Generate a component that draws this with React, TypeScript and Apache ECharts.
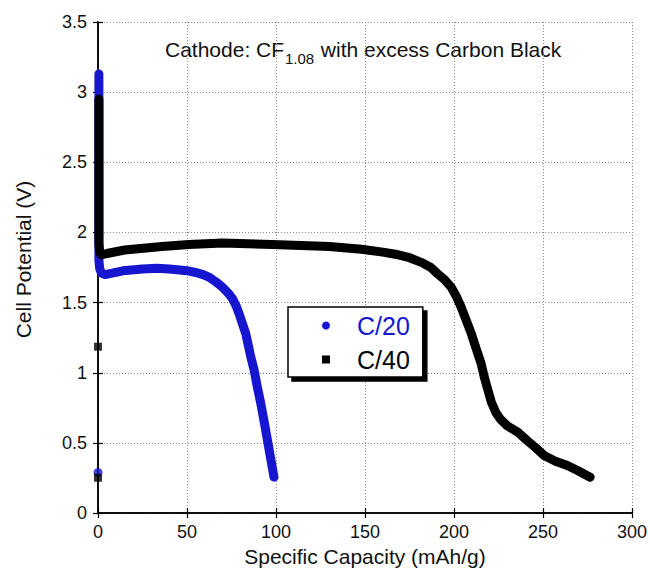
import React, { useEffect, useRef } from "react";
import * as echarts from "echarts";

const c20X = [0.5, 0.5, 0.5, 1, 2, 4, 8, 14, 25, 33, 40, 46, 51, 55, 59, 62.6, 66, 70, 73, 75.6, 77.5, 79.3, 81, 83, 85.8, 87.7, 89.5, 91.4, 93.3, 95.1, 97, 98.9];
const c20Y = [3.13, 2.5, 1.8, 1.74, 1.71, 1.7, 1.71, 1.727, 1.74, 1.745, 1.74, 1.733, 1.725, 1.715, 1.7, 1.68, 1.65, 1.609, 1.57, 1.527, 1.48, 1.42, 1.355, 1.28, 1.115, 1.02, 0.9, 0.785, 0.655, 0.527, 0.39, 0.256];
const c40X = [0.5, 0.5, 0.5, 1, 2, 5, 15, 36, 51, 70, 98, 130, 148, 160, 167, 175, 182, 187, 191, 195, 198.5, 201.5, 204, 207, 209.7, 212.5, 215.2, 217, 219, 221, 223.6, 226, 230, 236, 241.3, 246, 250.6, 257, 263.7, 270, 276.5];
const c40Y = [2.95, 2.5, 1.92, 1.86, 1.84, 1.85, 1.875, 1.9, 1.915, 1.925, 1.915, 1.9, 1.88, 1.86, 1.845, 1.82, 1.785, 1.75, 1.703, 1.66, 1.609, 1.54, 1.468, 1.37, 1.28, 1.17, 1.068, 0.97, 0.88, 0.79, 0.715, 0.67, 0.621, 0.575, 0.515, 0.465, 0.41, 0.37, 0.339, 0.3, 0.256];
const c20OutX = [0];
const c20OutY = [0.29];
const c40OutX = [0, 0];
const c40OutY = [1.186, 0.252];

const seriesNames = ["C/20", "C/40"];
const titleMain = "Cathode: CF";
const titleSub = "1.08";
const titleRest = " with excess Carbon Black";
const xName = "Specific Capacity (mAh/g)";
const yName = "Cell Potential (V)";

const BLUE = "#1616d0";
const FONT = "Liberation Sans, Arial, Helvetica, sans-serif";

const zip = (xs: number[], ys: number[]) => xs.map((x, i) => [x, ys[i]]);

export default function App() {
  const ref = useRef<HTMLDivElement>(null);
  useEffect(() => {
    if (!ref.current) return;
    const chart = echarts.init(ref.current, null, { renderer: "svg" });
    const axisCommon = {
      type: "value" as const,
      axisLine: { show: true, lineStyle: { color: "#000", width: 1.5 } },
      axisTick: { show: true, inside: true, length: 5, lineStyle: { color: "#000", width: 1.2 } },
    };
    chart.setOption({
      animation: false,
      backgroundColor: "#fff",
      textStyle: { fontFamily: FONT },
      grid: { left: 98, right: 15, top: 22, bottom: 54, containLabel: false },
      xAxis: [
        {
          ...axisCommon,
          position: "bottom",
          min: 0,
          max: 300,
          interval: 50,
          name: xName,
          nameLocation: "middle",
          nameGap: 26,
          nameTextStyle: { fontSize: 21, color: "#111", fontFamily: FONT },
          axisLabel: { fontSize: 18, color: "#111", margin: 10, fontFamily: FONT },
          splitLine: { show: true, lineStyle: { type: [1, 2], color: "#888", width: 1 } },
        },
        {
          ...axisCommon,
          position: "top",
          min: 0,
          max: 300,
          interval: 50,
          axisLabel: { show: false },
          splitLine: { show: false },
        },
      ],
      yAxis: [
        {
          ...axisCommon,
          position: "left",
          min: 0,
          max: 3.5,
          interval: 0.5,
          name: yName,
          nameLocation: "middle",
          nameGap: 64,
          nameTextStyle: { fontSize: 21, color: "#111", fontFamily: FONT, padding: [0, 0, 0, 16] },
          axisLabel: { fontSize: 18, color: "#111", margin: 11, fontFamily: FONT },
          splitLine: { show: true, lineStyle: { type: [1, 2], color: "#888", width: 1 } },
        },
        {
          ...axisCommon,
          position: "right",
          min: 0,
          max: 3.5,
          interval: 0.5,
          axisLabel: { show: false },
          splitLine: { show: false },
        },
      ],
      legend: {
        orient: "vertical",
        left: 288,
        top: 307,
        padding: [6, 13, 5, 34],
        itemGap: 9,
        itemWidth: 8,
        itemHeight: 8,
        backgroundColor: "#fff",
        borderColor: "#000",
        borderWidth: 1.5,
        borderRadius: 0,
        shadowColor: "#000",
        shadowBlur: 0,
        shadowOffsetX: 4,
        shadowOffsetY: 4,
        textStyle: { fontSize: 25, fontFamily: FONT, padding: [0, 0, 0, 22] },
        data: [
          { name: seriesNames[0], icon: "circle", textStyle: { color: BLUE } },
          { name: seriesNames[1], icon: "rect", textStyle: { color: "#000" } },
        ],
      },
      graphic: [
        { type: "text", left: 165, top: 39, style: { text: titleMain, fontSize: 21, fill: "#111", fontFamily: FONT } },
        { type: "text", left: 285, top: 51, style: { text: titleSub, fontSize: 15, fill: "#111", fontFamily: FONT } },
        { type: "text", left: 315, top: 39, style: { text: titleRest, fontSize: 21, fill: "#111", fontFamily: FONT } },
      ],
      series: [
        {
          name: seriesNames[0],
          type: "line",
          data: zip(c20X, c20Y),
          symbol: "none",
          color: BLUE,
          lineStyle: { color: BLUE, width: 9, cap: "round", join: "round" },
        },
        {
          name: seriesNames[0],
          type: "scatter",
          data: zip(c20OutX, c20OutY),
          symbol: "circle",
          symbolSize: 9,
          itemStyle: { color: BLUE },
        },
        {
          name: seriesNames[1],
          type: "line",
          data: zip(c40X, c40Y),
          symbol: "none",
          color: "#000",
          lineStyle: { color: "#000", width: 9, cap: "round", join: "round" },
        },
        {
          name: seriesNames[1],
          type: "scatter",
          data: zip(c40OutX, c40OutY),
          symbol: "rect",
          symbolSize: 8,
          itemStyle: { color: "#000" },
        },
      ],
    });
    return () => chart.dispose();
  }, []);
  return <div ref={ref} style={{ position: "fixed", left: 0, top: 0, width: 650, height: 572 }} />;
}
